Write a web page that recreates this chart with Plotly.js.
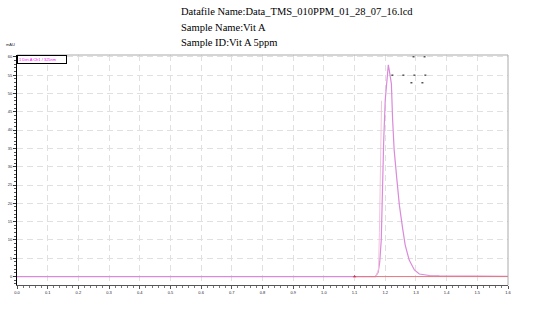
<!DOCTYPE html>
<html><head><meta charset="utf-8">
<script src="https://cdn.plot.ly/plotly-3.0.1.min.js"></script>
<style>html,body{margin:0;padding:0;background:#fff}#chart{width:544px;height:311px}</style>
</head><body><div id="chart"></div>
<script>
// Main chromatogram (Det.A) retention time (min) and signal
const mainTime = [0.0, 0.5, 1.0, 1.168, 1.177, 1.182, 1.187, 1.191, 1.195, 1.200, 1.207, 1.210, 1.213, 1.218, 1.220, 1.224, 1.229, 1.238, 1.246, 1.256, 1.265, 1.278, 1.295, 1.311, 1.344, 1.376, 1.40, 1.42, 1.44, 1.46, 1.6];
const mainSignal = [0.0, 0.0, 0.0, 0.0, 1.2, 4.0, 10.0, 26.4, 37.3, 48.2, 55.9, 57.8, 56.4, 53.7, 52.6, 42.8, 34.6, 26.4, 19.5, 13.5, 8.6, 4.5, 1.8, 0.7, 0.3, 0.2, 0.2, 0.25, 0.2, 0.1, 0.05];
// faint overlay trace
const faintTime = [1.170, 1.178, 1.181, 1.183, 1.185, 1.188];
const faintSignal = [0.0, 2.0, 12.0, 25.0, 38.0, 48.0];
// reference baseline (red)
const baseTime = [1.100, 1.6];
const baseSignal = [0.0, 0.0];
const yTicks = [0, 5, 10, 15, 20, 25, 30, 35, 40, 45, 50, 55, 60];
const xTicks = [0.0, 0.1, 0.2, 0.3, 0.4, 0.5, 0.6, 0.7, 0.8, 0.9, 1.0, 1.1, 1.2, 1.3, 1.4, 1.5, 1.6];
const titleLines = ["Datafile Name:Data_TMS_010PPM_01_28_07_16.lcd", "Sample Name:Vit A", "Sample ID:Vit A 5ppm"];

const traces = [
  {x: mainTime, y: mainSignal, type: 'scatter', mode: 'lines', line: {color: '#da8ada', width: 1.2}, hoverinfo: 'skip'},
  {x: faintTime, y: faintSignal, type: 'scatter', mode: 'lines', line: {color: '#f2c4dc', width: 1}, hoverinfo: 'skip'},
  {x: baseTime, y: baseSignal, type: 'scatter', mode: 'lines', line: {color: '#e07a80', width: 1}, hoverinfo: 'skip'},
  {x: [baseTime[0]], y: [baseSignal[0]], type: 'scatter', mode: 'markers', marker: {color: '#d03040', size: 3, symbol: 'triangle-up'}, hoverinfo: 'skip'}
];

const annotations = titleLines.map((t, i) => ({
  text: t, xref: 'paper', yref: 'paper', x: 0.33, y: (285 - (12 + 15 * i)) / 230,
  xanchor: 'left', yanchor: 'middle', showarrow: false,
  font: {family: 'Liberation Serif', size: 10.5, color: '#000'}
}));
annotations.push({
  text: '1 Det.A Ch1 / 325nm', xref: 'paper', yref: 'paper', x: 0.001, y: 1.0,
  xanchor: 'left', yanchor: 'top', showarrow: false, align: 'left',
  font: {family: 'Liberation Sans', size: 4, color: '#ff00ff'},
  bgcolor: '#ffffff', bordercolor: '#000', borderwidth: 1, borderpad: 1, width: 46, height: 5
});
annotations.push({
  text: 'mAU', xref: 'paper', yref: 'paper', x: 0.0, y: 1.0, yshift: 6,
  xanchor: 'right', yanchor: 'bottom', showarrow: false,
  font: {family: 'Liberation Sans', size: 4, color: '#223'}
});

const dashMarks = [
  {x0: 1.289, x1: 1.341, y: 60.0},
  {x0: 1.220, x1: 1.341, y: 55.0},
  {x0: 1.282, x1: 1.341, y: 52.9}
];
const shapes = dashMarks.map(d => ({
  type: 'line', xref: 'x', yref: 'y', x0: d.x0, x1: d.x1, y0: d.y, y1: d.y,
  line: {color: '#000', width: 1, dash: '2px,9px'}
}));
shapes.push({type: 'rect', xref: 'paper', yref: 'paper', x0: 0.004, x1: 0.1, y0: 0.968, y1: 0.976, fillcolor: '#bbbbbb', line: {width: 0}, layer: 'below'});

const layout = {
  width: 544, height: 311,
  margin: {l: 17, r: 36, t: 55, b: 26},
  paper_bgcolor: '#fff', plot_bgcolor: '#fff',
  showlegend: false,
  xaxis: {
    range: [0, 1.6], tickvals: xTicks, ticktext: xTicks.map(v => v.toFixed(1)),
    showgrid: true, gridcolor: '#e0e0e0', griddash: '6px,4px', gridwidth: 1,
    zeroline: false, showline: true, linecolor: '#555', linewidth: 1, mirror: false,
    ticks: 'outside', ticklen: 3, tickcolor: '#555',
    minor: {dtick: 0.02, ticks: 'outside', ticklen: 2, tickcolor: '#777', showgrid: false},
    tickfont: {family: 'Liberation Sans', size: 4, color: '#223'}
  },
  yaxis: {
    range: [-2.3, 60.5], tickvals: yTicks, ticktext: yTicks.map(String),
    showgrid: true, gridcolor: '#e0e0e0', griddash: '6px,4px', gridwidth: 1,
    zeroline: false, showline: true, linecolor: '#000', linewidth: 1,
    ticks: 'outside', ticklen: 3, tickcolor: '#333',
    minor: {dtick: 1, ticks: 'outside', ticklen: 2, tickcolor: '#555', showgrid: false},
    tickfont: {family: 'Liberation Sans', size: 4, color: '#223'}
  },
  shapes: shapes.concat([
    {type: 'line', xref: 'paper', yref: 'paper', x0: 0, x1: 1, y0: 1, y1: 1, line: {color: '#aaa', width: 1}},
    {type: 'line', xref: 'paper', yref: 'paper', x0: 1, x1: 1, y0: 0, y1: 1, line: {color: '#aaa', width: 1}}
  ]),
  annotations: annotations
};
Plotly.newPlot('chart', traces, layout, {staticPlot: true, displayModeBar: false});
</script></body></html>
